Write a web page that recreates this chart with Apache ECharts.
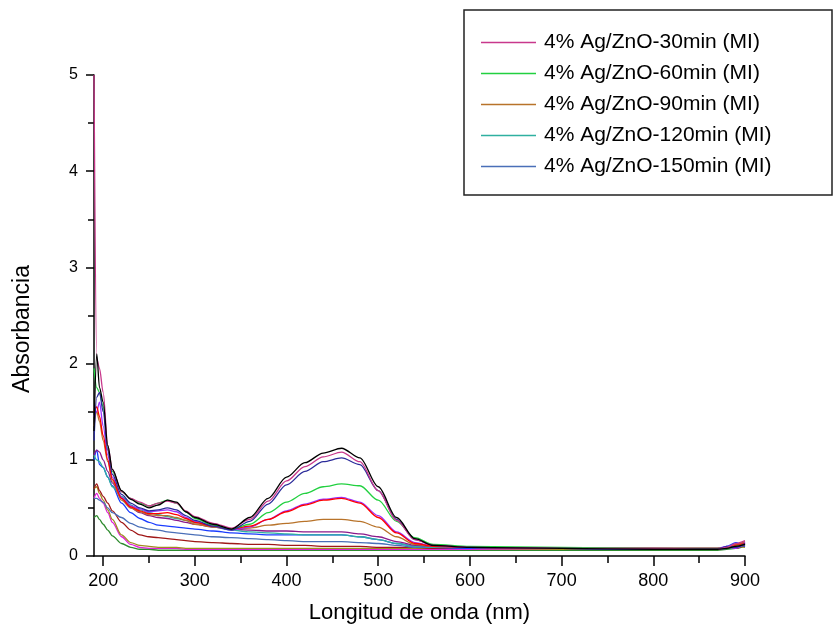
<!DOCTYPE html>
<html>
<head>
<meta charset="utf-8">
<script src="https://cdn.jsdelivr.net/npm/echarts@6/dist/echarts.min.js"></script>
<style>
  html, body { margin: 0; padding: 0; background: #fff; }
  #main { width: 836px; height: 630px; }
</style>
</head>
<body>
<div id="main"></div>
<script>
// wavelengths (nm)
const wavelengths = [190,193,196,200,205,210,220,230,240,250,260,270,280,290,300,320,340,360,380,400,420,440,460,480,500,520,540,560,600,700,800,870,880,890,900];

const xMajorTicks = [200,300,400,500,600,700,800,900];
const xMinorTicks = [250,350,450,550,650,750,850];

// absorbance curves
const ag30 = [5.0,2.05,1.95,1.7,1.15,0.9,0.67,0.6,0.56,0.52,0.55,0.57,0.55,0.47,0.41,0.34,0.29,0.38,0.57,0.78,0.93,1.03,1.08,0.98,0.68,0.37,0.17,0.11,0.09,0.08,0.08,0.07,0.09,0.13,0.16];
const blackCurve = [1.3,2.1,1.75,1.6,1.15,0.9,0.68,0.59,0.54,0.5,0.53,0.58,0.56,0.46,0.4,0.33,0.28,0.4,0.6,0.82,0.97,1.07,1.12,1.02,0.72,0.4,0.18,0.11,0.09,0.08,0.07,0.07,0.08,0.1,0.12];
const navyCurve = [1.2,1.65,1.7,1.5,1.1,0.85,0.64,0.55,0.5,0.47,0.48,0.5,0.48,0.42,0.37,0.31,0.27,0.36,0.54,0.74,0.88,0.98,1.02,0.95,0.68,0.38,0.17,0.11,0.09,0.08,0.07,0.07,0.1,0.09,0.13];
const ag60 = [1.95,1.75,1.7,1.55,1.12,0.88,0.67,0.6,0.55,0.52,0.55,0.58,0.55,0.46,0.39,0.32,0.28,0.33,0.45,0.56,0.65,0.72,0.75,0.73,0.58,0.36,0.19,0.12,0.1,0.09,0.08,0.08,0.08,0.1,0.12];
const redCurve = [1.5,1.55,1.45,1.25,1.0,0.8,0.6,0.51,0.47,0.44,0.44,0.45,0.43,0.39,0.35,0.31,0.28,0.31,0.38,0.46,0.53,0.58,0.6,0.55,0.4,0.24,0.13,0.1,0.09,0.08,0.08,0.08,0.08,0.11,0.13];
const violetCurve = [1.45,1.5,1.6,1.35,1.05,0.82,0.61,0.52,0.49,0.46,0.47,0.48,0.46,0.4,0.36,0.31,0.27,0.3,0.38,0.47,0.54,0.59,0.61,0.56,0.42,0.25,0.14,0.1,0.09,0.08,0.08,0.08,0.1,0.08,0.14];
const ag90 = [1.35,1.5,1.4,1.2,0.98,0.78,0.58,0.5,0.46,0.43,0.42,0.42,0.4,0.37,0.33,0.3,0.28,0.29,0.32,0.34,0.36,0.38,0.38,0.36,0.3,0.2,0.12,0.1,0.09,0.08,0.08,0.08,0.09,0.12,0.15];
const purpleCurve = [1.05,1.1,1.08,1.0,0.88,0.76,0.6,0.5,0.45,0.42,0.4,0.39,0.37,0.35,0.33,0.3,0.28,0.27,0.26,0.26,0.25,0.25,0.25,0.23,0.2,0.15,0.11,0.1,0.09,0.08,0.08,0.08,0.09,0.1,0.11];
const ag120 = [1.05,1.0,0.98,0.92,0.82,0.72,0.62,0.53,0.48,0.45,0.43,0.41,0.39,0.37,0.35,0.3,0.27,0.25,0.24,0.23,0.22,0.22,0.22,0.2,0.17,0.13,0.1,0.09,0.09,0.08,0.08,0.07,0.08,0.09,0.12];
const blueCurve = [1.0,1.1,0.95,0.92,0.82,0.73,0.55,0.45,0.39,0.35,0.32,0.31,0.3,0.29,0.28,0.26,0.24,0.23,0.22,0.22,0.22,0.22,0.22,0.2,0.17,0.13,0.1,0.09,0.08,0.08,0.07,0.07,0.1,0.14,0.1];
const ag150 = [0.6,0.6,0.58,0.56,0.5,0.45,0.4,0.34,0.3,0.28,0.27,0.25,0.24,0.23,0.22,0.2,0.19,0.18,0.17,0.16,0.15,0.15,0.15,0.14,0.13,0.11,0.09,0.09,0.08,0.08,0.07,0.07,0.08,0.09,0.11];
const darkRedCurve = [0.7,0.75,0.68,0.62,0.55,0.47,0.35,0.27,0.22,0.2,0.19,0.18,0.17,0.16,0.15,0.14,0.13,0.12,0.12,0.11,0.11,0.1,0.1,0.1,0.09,0.09,0.09,0.08,0.08,0.08,0.07,0.07,0.09,0.08,0.12];
const oliveCurve = [0.7,0.72,0.65,0.58,0.48,0.38,0.22,0.14,0.11,0.1,0.09,0.09,0.09,0.08,0.08,0.08,0.08,0.08,0.08,0.08,0.08,0.08,0.08,0.08,0.08,0.08,0.08,0.08,0.08,0.07,0.07,0.07,0.08,0.1,0.09];
const pinkCurve = [0.6,0.65,0.6,0.55,0.45,0.35,0.2,0.12,0.09,0.08,0.08,0.08,0.08,0.07,0.07,0.07,0.07,0.07,0.07,0.07,0.07,0.07,0.07,0.07,0.07,0.07,0.07,0.07,0.07,0.07,0.07,0.07,0.09,0.12,0.14];
const darkGreenCurve = [0.4,0.42,0.38,0.33,0.27,0.21,0.13,0.09,0.07,0.07,0.06,0.06,0.06,0.06,0.06,0.06,0.06,0.06,0.06,0.06,0.06,0.06,0.06,0.06,0.06,0.06,0.06,0.06,0.06,0.06,0.06,0.06,0.07,0.08,0.1];

const legendNames = [
  '4% Ag/ZnO-30min (MI)',
  '4% Ag/ZnO-60min (MI)',
  '4% Ag/ZnO-90min (MI)',
  '4% Ag/ZnO-120min (MI)',
  '4% Ag/ZnO-150min (MI)'
];

// drawn bottom first, so the top curves sit over the rest
const curves = [
  { name: 'c1', values: darkGreenCurve, color: '#2e8b2e' },
  { name: 'c2', values: pinkCurve, color: '#e020d8' },
  { name: 'c3', values: oliveCurve, color: '#a08a20' },
  { name: 'c4', values: darkRedCurve, color: '#a01818' },
  { name: legendNames[4], values: ag150, color: '#4a6fb8' },
  { name: 'c5', values: blueCurve, color: '#1a3cff' },
  { name: legendNames[3], values: ag120, color: '#2fb0a0' },
  { name: 'c6', values: purpleCurve, color: '#8b1a8b' },
  { name: legendNames[2], values: ag90, color: '#b8732a' },
  { name: 'c7', values: violetCurve, color: '#9b30ff' },
  { name: 'c8', values: redCurve, color: '#ff0000' },
  { name: legendNames[1], values: ag60, color: '#22d040' },
  { name: 'c9', values: navyCurve, color: '#2b2b9a' },
  { name: legendNames[0], values: ag30, color: '#c8388c' },
  { name: 'c10', values: blackCurve, color: '#000000' }
];

const chart = echarts.init(document.getElementById('main'));

const option = {
  backgroundColor: '#fff',
  animation: false,
  grid: { left: 94, right: 91, top: 75, bottom: 74 },
  legend: {
    data: legendNames,
    orient: 'vertical',
    left: 481,
    top: 32,
    padding: 0,
    icon: 'rect',
    itemWidth: 55,
    itemHeight: 1.5,
    itemGap: 10,
    textStyle: { fontFamily: 'Liberation Sans', fontSize: 21, color: '#000', lineHeight: 20.5, padding: [0, 0, 0, 3] }
  },
  graphic: [{
    type: 'rect',
    shape: { x: 464, y: 10, width: 368, height: 185 },
    style: { fill: 'none', stroke: '#222', lineWidth: 1.5 }
  }],
  xAxis: [{
    type: 'value',
    min: 190,
    max: 900,
    name: 'Longitud de onda (nm)',
    nameLocation: 'middle',
    nameGap: 46,
    nameTextStyle: { fontFamily: 'Liberation Sans', fontSize: 22, color: '#000' },
    axisLine: { lineStyle: { color: '#000', width: 1.5 } },
    axisTick: { length: 10, customValues: xMajorTicks, lineStyle: { color: '#000', width: 1.5 } },
    axisLabel: { customValues: xMajorTicks, margin: 16, fontFamily: 'Liberation Sans', fontSize: 18, color: '#000' },
    splitLine: { show: false }
  }, {
    type: 'value',
    min: 190,
    max: 900,
    position: 'bottom',
    axisLine: { show: false },
    axisTick: { length: 7, customValues: xMinorTicks, lineStyle: { color: '#000', width: 1.5 } },
    axisLabel: { show: false },
    splitLine: { show: false }
  }],
  yAxis: {
    type: 'value',
    min: 0,
    max: 5,
    interval: 1,
    name: 'Absorbancia',
    nameLocation: 'middle',
    nameGap: 60,
    nameTextStyle: { fontFamily: 'Liberation Sans', fontSize: 23, color: '#000', padding: [0, 27, 0, 0] },
    axisLine: { show: true, lineStyle: { color: '#000', width: 1.5 } },
    axisTick: { show: true, length: 8, lineStyle: { color: '#000', width: 1.5 } },
    minorTick: { show: true, splitNumber: 2, length: 6, lineStyle: { color: '#000', width: 1.5 } },
    axisLabel: { margin: 16, fontFamily: 'Liberation Sans', fontSize: 16, color: '#000' },
    splitLine: { show: false }
  },
  series: curves.map(c => ({
    name: c.name,
    type: 'line',
    xAxisIndex: 0,
    data: wavelengths.map((w, i) => [w, c.values[i]]),
    symbol: 'none',
    smooth: 0.3,
    smoothMonotone: 'x',
    color: c.color,
    lineStyle: { color: c.color, width: 1.3 }
  }))
};

chart.setOption(option);
</script>
</body>
</html>
